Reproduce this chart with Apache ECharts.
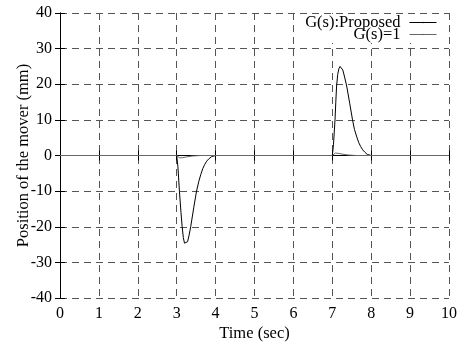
<!DOCTYPE html>
<html>
<head>
<meta charset="utf-8">
<script src="https://cdn.jsdelivr.net/npm/echarts@6/dist/echarts.min.js"></script>
<style>
    html, body { margin: 0; padding: 0; background: #fff; }
    #chartbox { width: 460px; height: 343px; }
</style>
</head>
<body>
<div id="chartbox"></div>
<script>
// time (sec) and position (mm)
var proposedT = [0, 3.00, 3.03, 3.07, 3.11, 3.14, 3.17, 3.20, 3.24, 3.28, 3.32, 3.36, 3.44, 3.51, 3.57, 3.62, 3.67, 3.72, 3.77, 3.82, 3.90, 4.00,
                 7.00, 7.03, 7.07, 7.09, 7.11, 7.14, 7.17, 7.20, 7.23, 7.27, 7.31, 7.37, 7.45, 7.52, 7.57, 7.63, 7.68, 7.73, 7.78, 7.83, 7.90, 8.00, 10];
var proposedY = [0, 0, -3, -10, -16, -20, -23, -24.6, -25, -24.2, -22.3, -20, -14.5, -10, -7.2, -5.3, -3.7, -2.5, -1.6, -1, -0.3, 0,
                 0, 3, 10, 15, 19.5, 22.8, 24.4, 25, 24.9, 24, 22.3, 19.5, 14.5, 10, 7.3, 5.2, 3.6, 2.5, 1.6, 1, 0.3, 0, 0];
var unityT = [0, 3.00, 3.04, 3.08, 3.15, 3.25, 3.40, 3.60, 7.00, 7.04, 7.08, 7.15, 7.25, 7.40, 7.60, 10];
var unityY = [0, 0, -0.5, -0.7, -0.6, -0.4, -0.15, 0, 0, 0.5, 0.7, 0.6, 0.4, 0.15, 0, 0];
var seriesNames = ["G(s):Proposed", "G(s)=1"];

var pairs = function (xs, ys) {
    var out = [];
    xs.map(function (x, i) { out.push([x, ys[i]]); });
    return out;
};

var font = "Liberation Serif, Times New Roman, serif";
var gridLine = { show: true, lineStyle: { color: "#555", type: [7, 5], width: 1 } };
var frame = { show: true, lineStyle: { color: "#000", width: 1 } };
var ticks = { show: true, inside: true, length: 5, lineStyle: { color: "#000" } };
var legendText = { fontFamily: font, fontSize: 16.5, color: "#000", padding: [0, 4, 0, 0] };

var myChart = echarts.init(document.getElementById("chartbox"));
var option = {
    animation: false,
    grid: { left: 60, right: 11, top: 13, bottom: 45, outerBoundsMode: "none", containLabel: false },
    legend: [
        {
            // first entry, its white box also sits behind the second one
            data: [seriesNames[0]],
            right: 14,
            top: 14,
            align: "right",
            padding: [0, 9, 12, 8],
            backgroundColor: "#fff",
            itemWidth: 27,
            itemHeight: 2,
            lineStyle: { width: 1 },
            textStyle: legendText
        },
        {
            data: [seriesNames[1]],
            right: 23,
            top: 26,
            align: "right",
            padding: 0,
            itemWidth: 27,
            itemHeight: 2,
            lineStyle: { width: 1 },
            textStyle: legendText
        }
    ],
    xAxis: [
        {
            type: "value", min: 0, max: 10, interval: 1,
            name: "Time (sec)", nameLocation: "middle", nameGap: 27, nameMoveOverlap: false,
            nameTextStyle: { fontFamily: font, fontSize: 16.5, color: "#000" },
            axisLine: frame, axisTick: ticks,
            axisLabel: { fontFamily: font, fontSize: 16, color: "#000", margin: 8 },
            splitLine: gridLine
        },
        {
            type: "value", min: 0, max: 10, interval: 1, position: "top",
            axisLine: frame, axisTick: ticks, axisLabel: { show: false }, splitLine: { show: false }
        }
    ],
    yAxis: [
        {
            type: "value", min: -40, max: 40, interval: 10,
            name: "Position of the mover (mm)", nameLocation: "middle", nameGap: 28, nameMoveOverlap: false,
            nameTextStyle: { fontFamily: font, fontSize: 16.5, color: "#000" },
            axisLine: frame, axisTick: ticks,
            axisLabel: { fontFamily: font, fontSize: 16, color: "#000", margin: 8 },
            splitLine: gridLine
        },
        {
            type: "value", min: -40, max: 40, interval: 10, position: "right",
            axisLine: frame, axisTick: ticks, axisLabel: { show: false }, splitLine: { show: false }
        }
    ],
    series: [
        {
            name: seriesNames[0], type: "line", symbol: "none",
            lineStyle: { color: "#000", width: 1 }, itemStyle: { color: "#000" },
            data: pairs(proposedT, proposedY)
        },
        {
            name: seriesNames[1], type: "line", symbol: "none",
            lineStyle: { color: "#666", width: 1 }, itemStyle: { color: "#666" },
            data: pairs(unityT, unityY)
        }
    ]
};
option && myChart.setOption(option);
</script>
</body>
</html>
